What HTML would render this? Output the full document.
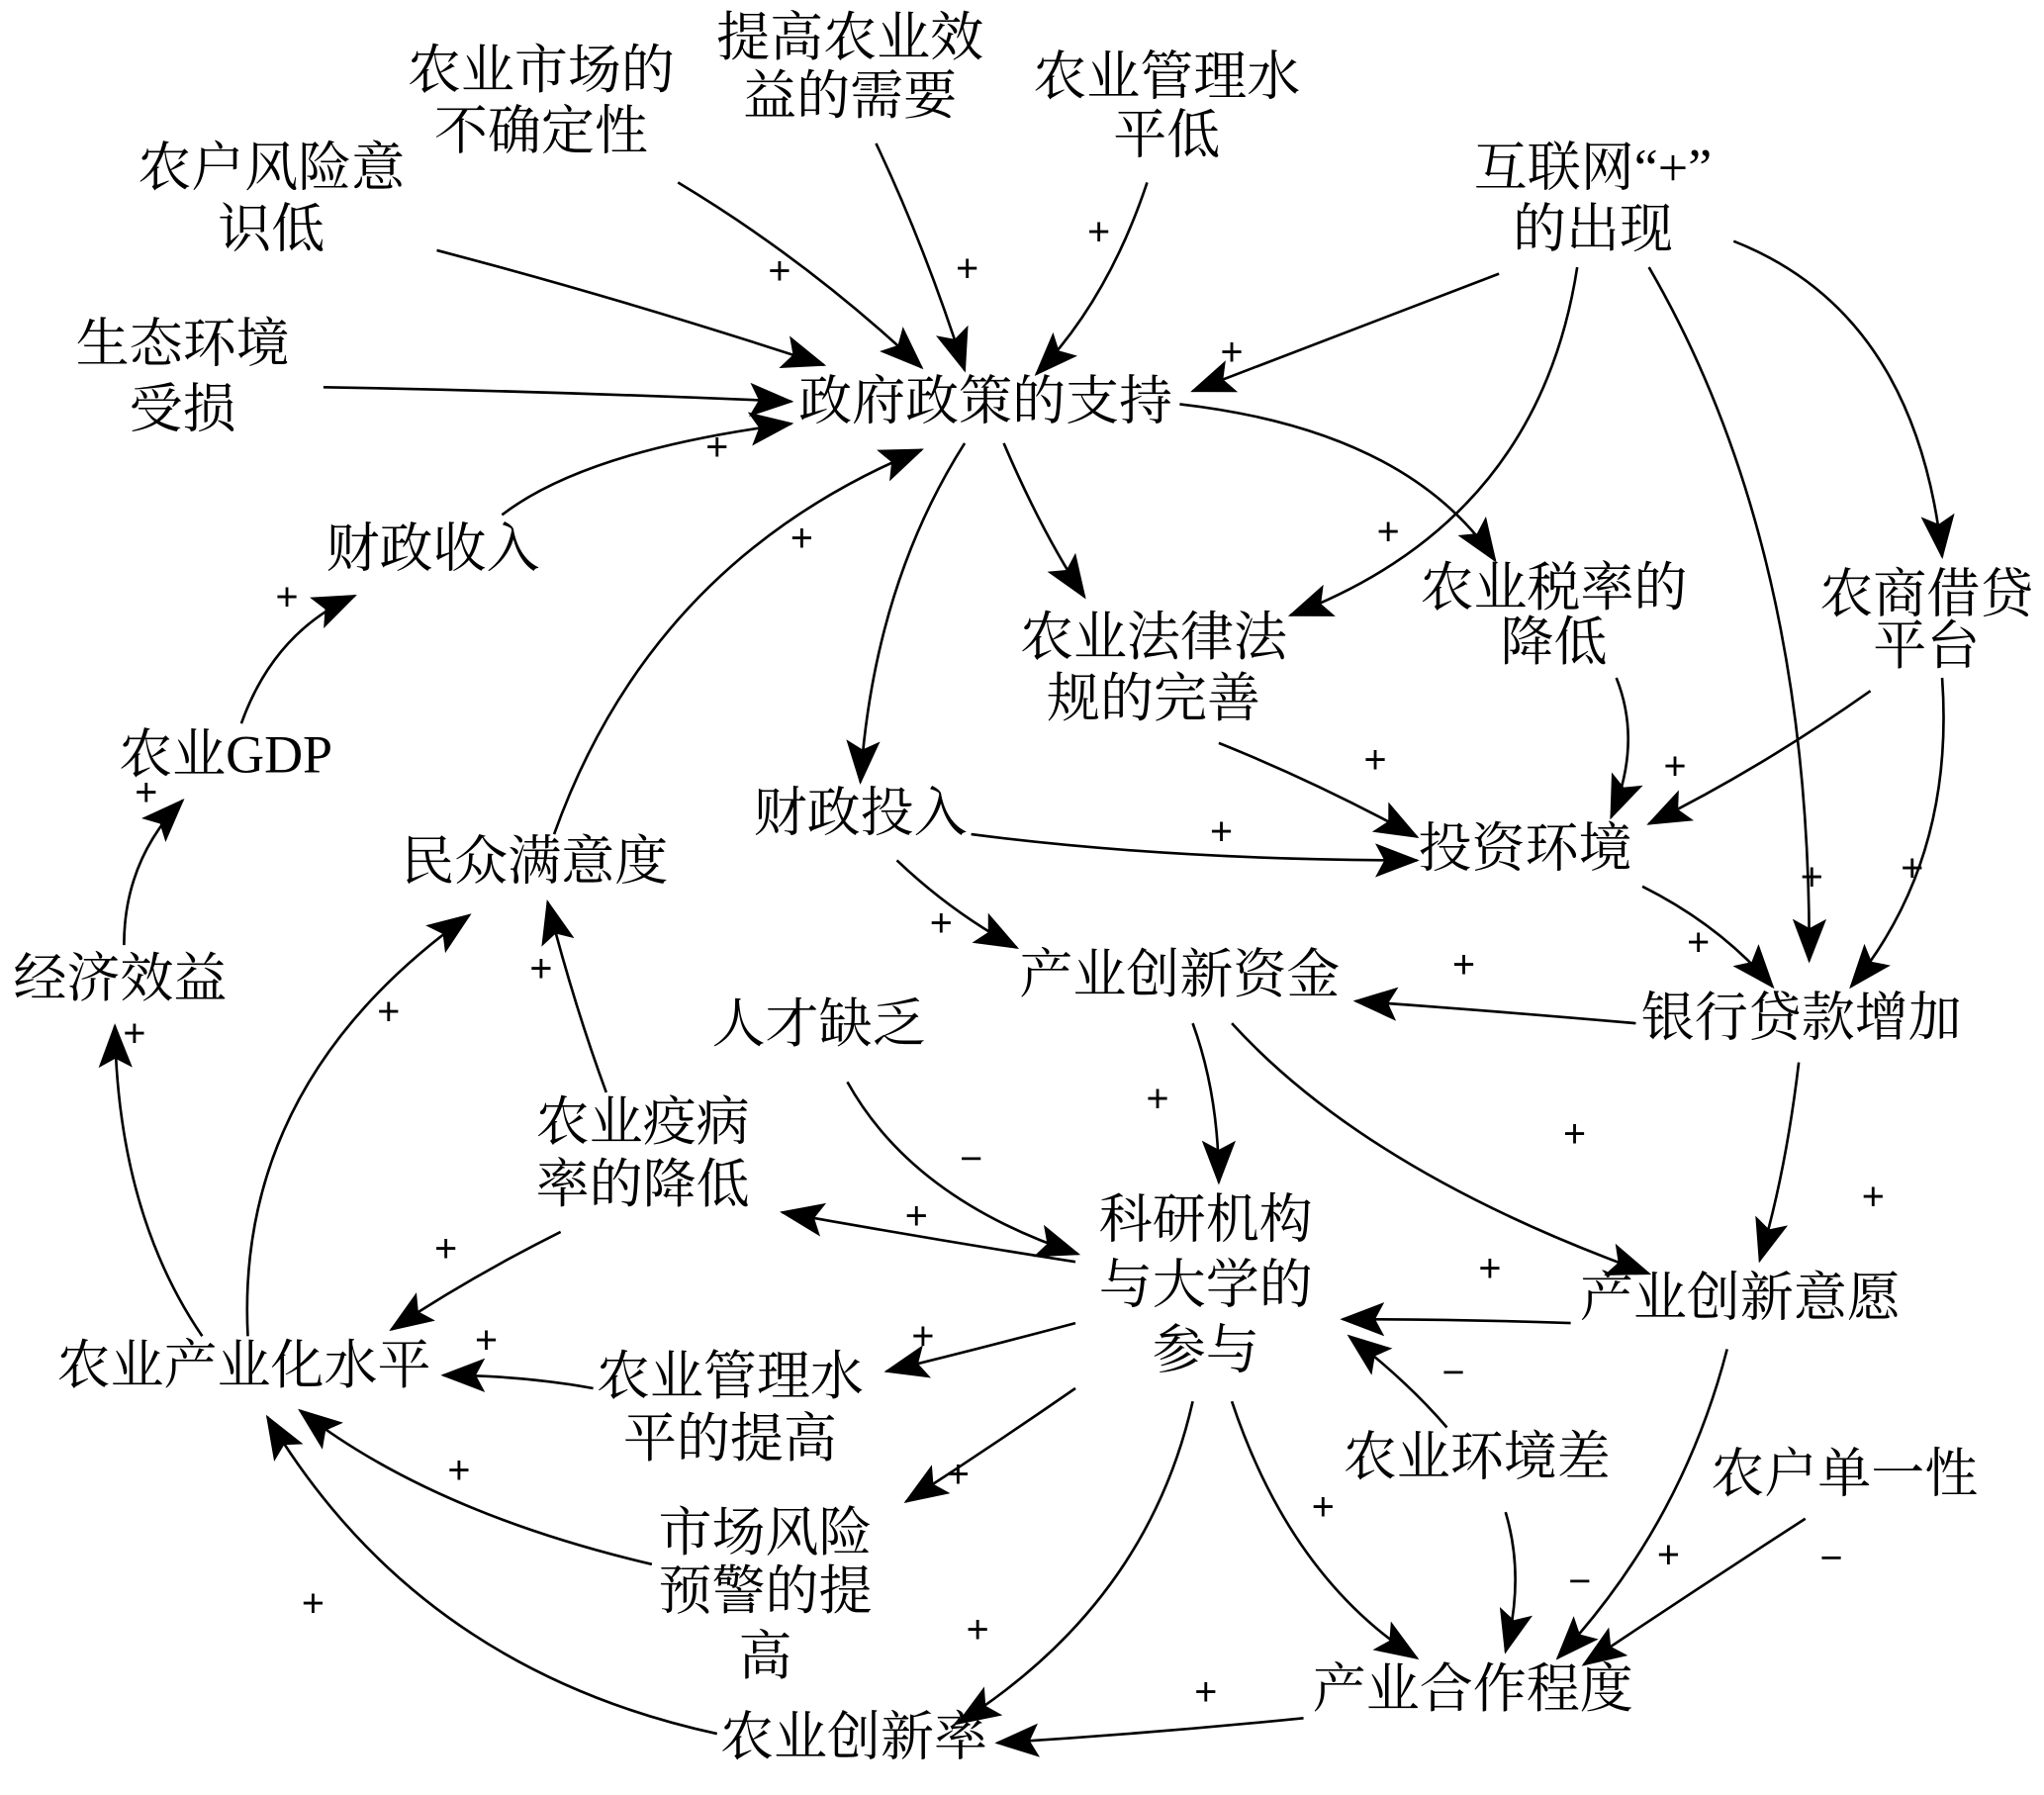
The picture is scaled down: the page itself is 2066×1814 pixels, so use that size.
<!DOCTYPE html>
<html><head><meta charset="utf-8"><style>
html,body{margin:0;padding:0;background:#fff;}
svg{display:block}
text{font-family:"Liberation Serif","Noto Serif CJK SC",serif;font-size:41px;fill:#000;text-anchor:middle;dominant-baseline:middle}
.p{font-size:30px;font-family:"Liberation Sans",sans-serif}
path{fill:none;stroke:#000;stroke-width:2}
</style></head><body>
<svg width="2066" height="1814" viewBox="0 0 1568 1377" xmlns="http://www.w3.org/2000/svg">
<defs><marker id="a" markerUnits="userSpaceOnUse" markerWidth="34" markerHeight="26" refX="32" refY="13" orient="auto"><polygon points="0,0 34,13 0,26 7,13" fill="#000"/></marker></defs>
<g marker-end="url(#a)">
<path d="M335,192 Q480,230 632,280"/>
<path d="M520,140 Q620,200 707,282"/>
<path d="M672,110 Q710,190 740,284"/>
<path d="M880,140 Q850,230 795,287"/>
<path d="M1150,210 Q1020,260 915,300"/>
<path d="M248,297 Q420,300 607,308"/>
<path d="M385,395 Q450,345 607,325"/>
<path d="M425,640 Q500,430 707,345"/>
<path d="M740,340 Q670,450 660,600"/>
<path d="M770,340 Q800,410 832,458"/>
<path d="M905,310 Q1080,330 1147,430"/>
<path d="M1210,205 Q1180,400 990,472"/>
<path d="M1265,205 Q1390,420 1388,737"/>
<path d="M1330,185 Q1470,240 1490,427"/>
<path d="M935,570 Q1010,600 1087,642"/>
<path d="M1240,520 Q1260,570 1236,627"/>
<path d="M1435,530 Q1350,590 1265,632"/>
<path d="M745,640 Q900,660 1087,660"/>
<path d="M1490,520 Q1500,660 1420,757"/>
<path d="M1260,680 Q1320,710 1360,757"/>
<path d="M1255,785 Q1140,775 1040,768"/>
<path d="M688,660 Q730,700 780,727"/>
<path d="M915,785 Q935,840 935,907"/>
<path d="M945,785 Q1050,900 1265,977"/>
<path d="M1380,815 Q1370,900 1350,967"/>
<path d="M650,830 Q700,920 827,962"/>
<path d="M825,968 Q710,950 600,930"/>
<path d="M1205,1015 Q1120,1012 1030,1012"/>
<path d="M1110,1095 Q1080,1060 1035,1025"/>
<path d="M825,1015 Q750,1035 680,1052"/>
<path d="M825,1065 Q760,1110 695,1152"/>
<path d="M915,1075 Q880,1230 735,1322"/>
<path d="M945,1075 Q990,1210 1087,1272"/>
<path d="M1325,1035 Q1290,1170 1195,1272"/>
<path d="M1155,1160 Q1170,1210 1155,1267"/>
<path d="M1385,1165 Q1300,1220 1215,1277"/>
<path d="M1000,1318 Q880,1330 765,1337"/>
<path d="M550,1330 Q320,1280 205,1087"/>
<path d="M500,1200 Q330,1160 230,1082"/>
<path d="M455,1065 Q400,1055 340,1055"/>
<path d="M430,945 Q360,980 300,1020"/>
<path d="M465,838 Q440,770 420,692"/>
<path d="M190,1025 Q180,830 360,702"/>
<path d="M155,1025 Q90,930 88,787"/>
<path d="M95,725 Q95,660 140,614"/>
<path d="M185,555 Q210,485 272,457"/>
</g>
<g>
<text x="415" y="58">农业市场的</text><text x="415" y="105">不确定性</text>
<text x="652" y="33">提高农业效</text><text x="652" y="78">益的需要</text>
<text x="895" y="63">农业管理水</text><text x="895" y="108">平低</text>
<text x="208" y="133">农户风险意</text><text x="208" y="180">识低</text>
<text x="1222" y="133">互联网“+”</text><text x="1222" y="180">的出现</text>
<text x="140" y="268">生态环境</text><text x="140" y="318">受损</text>
<text x="756" y="312">政府政策的支持</text>
<text x="332" y="425">财政收入</text>
<text x="885" y="493">农业法律法</text><text x="885" y="540">规的完善</text>
<text x="1192" y="455">农业税率的</text><text x="1192" y="497">降低</text>
<text x="1478" y="460">农商借贷</text><text x="1478" y="500">平台</text>
<text x="173" y="583">农业GDP</text>
<text x="660" y="628">财政投入</text>
<text x="1170" y="655">投资环境</text>
<text x="410" y="665">民众满意度</text>
<text x="905" y="752">产业创新资金</text>
<text x="92" y="755">经济效益</text>
<text x="1382" y="785">银行贷款增加</text>
<text x="628" y="790">人才缺乏</text>
<text x="493" y="865">农业疫病</text><text x="493" y="913">率的降低</text>
<text x="925" y="940">科研机构</text><text x="925" y="990">与大学的</text><text x="925" y="1040">参与</text>
<text x="1335" y="1000">产业创新意愿</text>
<text x="187" y="1052">农业产业化水平</text>
<text x="560" y="1060">农业管理水</text><text x="560" y="1108">平的提高</text>
<text x="1133" y="1122">农业环境差</text>
<text x="1415" y="1135">农户单一性</text>
<text x="587" y="1180">市场风险</text><text x="587" y="1225">预警的提</text><text x="587" y="1275">高</text>
<text x="1130" y="1300">产业合作程度</text>
<text x="655" y="1337">农业创新率</text>
</g>
<g class="p">
<text class="p" x="598" y="210">+</text><text class="p" x="742" y="208">+</text><text class="p" x="843" y="180">+</text>
<text class="p" x="945" y="272">+</text><text class="p" x="550" y="345">+</text><text class="p" x="615" y="415">+</text>
<text class="p" x="1065" y="410">+</text><text class="p" x="1390" y="675">+</text><text class="p" x="1055" y="585">+</text>
<text class="p" x="1285" y="590">+</text><text class="p" x="937" y="640">+</text><text class="p" x="1467" y="668">+</text>
<text class="p" x="1303" y="725">+</text><text class="p" x="1123" y="742">+</text><text class="p" x="722" y="710">+</text>
<text class="p" x="888" y="845">+</text><text class="p" x="1208" y="872">+</text><text class="p" x="1437" y="920">+</text>
<text class="p" x="745" y="891">−</text><text class="p" x="703" y="935">+</text><text class="p" x="1143" y="975">+</text>
<text class="p" x="1115" y="1055">−</text><text class="p" x="708" y="1027">+</text><text class="p" x="735" y="1133">+</text>
<text class="p" x="750" y="1252">+</text><text class="p" x="1015" y="1158">+</text><text class="p" x="1212" y="1215">−</text>
<text class="p" x="1280" y="1195">+</text><text class="p" x="1405" y="1197">−</text><text class="p" x="925" y="1300">+</text>
<text class="p" x="240" y="1232">+</text><text class="p" x="352" y="1130">+</text><text class="p" x="373" y="1030">+</text>
<text class="p" x="342" y="960">+</text><text class="p" x="415" y="745">+</text><text class="p" x="298" y="778">+</text>
<text class="p" x="103" y="795">+</text><text class="p" x="112" y="610">+</text><text class="p" x="220" y="460">+</text>
</g>
</svg>
</body></html>
